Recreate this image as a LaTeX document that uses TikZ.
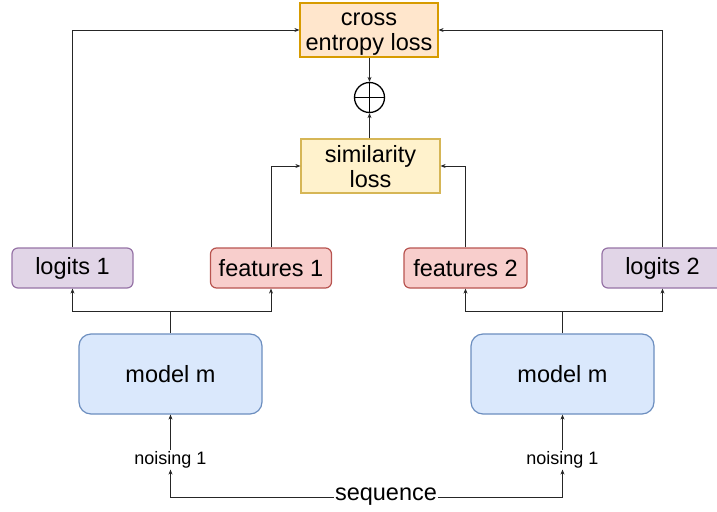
\documentclass[tikz,border=0pt]{standalone}
\usepackage{fontspec}
\setmainfont{Liberation Sans}
\usetikzlibrary{arrows.meta}
\definecolor{ceFill}{HTML}{FFE6CC}
\definecolor{ceDraw}{HTML}{D79B00}
\definecolor{simFill}{HTML}{FFF2CC}
\definecolor{simDraw}{HTML}{D6B656}
\definecolor{logFill}{HTML}{E1D5E7}
\definecolor{logDraw}{HTML}{9673A6}
\definecolor{featFill}{HTML}{F8CECC}
\definecolor{featDraw}{HTML}{B85450}
\definecolor{modFill}{HTML}{DAE8FC}
\definecolor{modDraw}{HTML}{6C8EBF}
\tikzset{
  box/.style={draw, line width=1.2pt, inner sep=0pt, align=center,
    font=\fontsize{23.5}{25}\selectfont},
  smallbox/.style={box, rounded corners=6pt, minimum width=121pt, minimum height=40pt},
  logbox/.style={smallbox, fill=logFill, draw=logDraw},
  featbox/.style={smallbox, fill=featFill, draw=featDraw},
  modbox/.style={box, rounded corners=12pt, fill=modFill, draw=modDraw,
    minimum width=183pt, minimum height=80pt},
  lossbox/.style={box, minimum width=138pt, minimum height=54pt},
  lbl/.style={inner sep=1pt, font=\fontsize{18}{20}\selectfont},
  seqlbl/.style={inner sep=1pt, font=\fontsize{23.5}{25}\selectfont},
  conn/.style={draw=black!85, line width=0.9pt},
  arr/.style={conn, -{Stealth[length=5pt,width=4pt]}},
}
\begin{document}
\begin{tikzpicture}[x=1pt,y=-1pt]
\useasboundingbox (0,0) rectangle (717,511);
\clip (0,0) rectangle (717,511);
% loss nodes
\node[lossbox, fill=ceFill, draw=ceDraw] (ce) at (369,30)
  {\raisebox{-3pt}[\height][\depth]{\begin{tabular}{@{}c@{}}cross\\entropy loss\end{tabular}}};
\node[lossbox, fill=simFill, draw=simDraw, minimum width=139pt] (sim) at (370.5,166)
  {\raisebox{-4pt}[\height][\depth]{\begin{tabular}{@{}c@{}}similarity\\loss\end{tabular}}};
\node[circle, draw=black, line width=1.3pt, minimum size=30pt, inner sep=0pt] (plus) at (369.5,97.5) {};
\draw[line width=1.3pt] (plus.north) -- (plus.south) (plus.west) -- (plus.east);
% output nodes
\node[logbox] (l1) at (72.5,268) {logits 1};
\node[featbox] (f1) at (271,268) {features 1};
\node[featbox, minimum width=123pt] (f2) at (465.5,268) {features 2};
\node[logbox] (l2) at (662.5,268) {logits 2};
% models
\node[modbox] (m1) at (170.5,374) {model m};
\node[modbox] (m2) at (562.5,374) {model m};
% noising and sequence
\node[lbl] (n1) at (170.5,460) {noising 1};
\node[lbl] (n2) at (562.5,460) {noising 1};
\node[seqlbl] (seq) at (386,497) {sequence};
\coordinate (j1) at (170.5,311);
\coordinate (j2) at (562.5,311);
% connectors
\draw[conn] (m1.north) -- (j1);
\draw[arr] (j1) -| (l1.south);
\draw[arr] (j1) -| (f1.south);
\draw[conn] (m2.north) -- (j2);
\draw[arr] (j2) -| (f2.south);
\draw[arr] (j2) -| (l2.south);
\draw[arr] (l1.north) |- (ce.west);
\draw[arr] (l2.north) |- (ce.east);
\draw[arr] (f1.north) |- (sim.west);
\draw[arr] (f2.north) |- (sim.east);
\draw[arr] (ce.south -| plus.north) -- (plus.north);
\draw[arr] (sim.north -| plus.south) -- (plus.south);
\draw[arr] (n1.north) -- (m1.south);
\draw[arr] (n2.north) -- (m2.south);
\draw[arr] (seq.west) -| (n1.south);
\draw[arr] (seq.east) -| (n2.south);
\end{tikzpicture}
\end{document}
